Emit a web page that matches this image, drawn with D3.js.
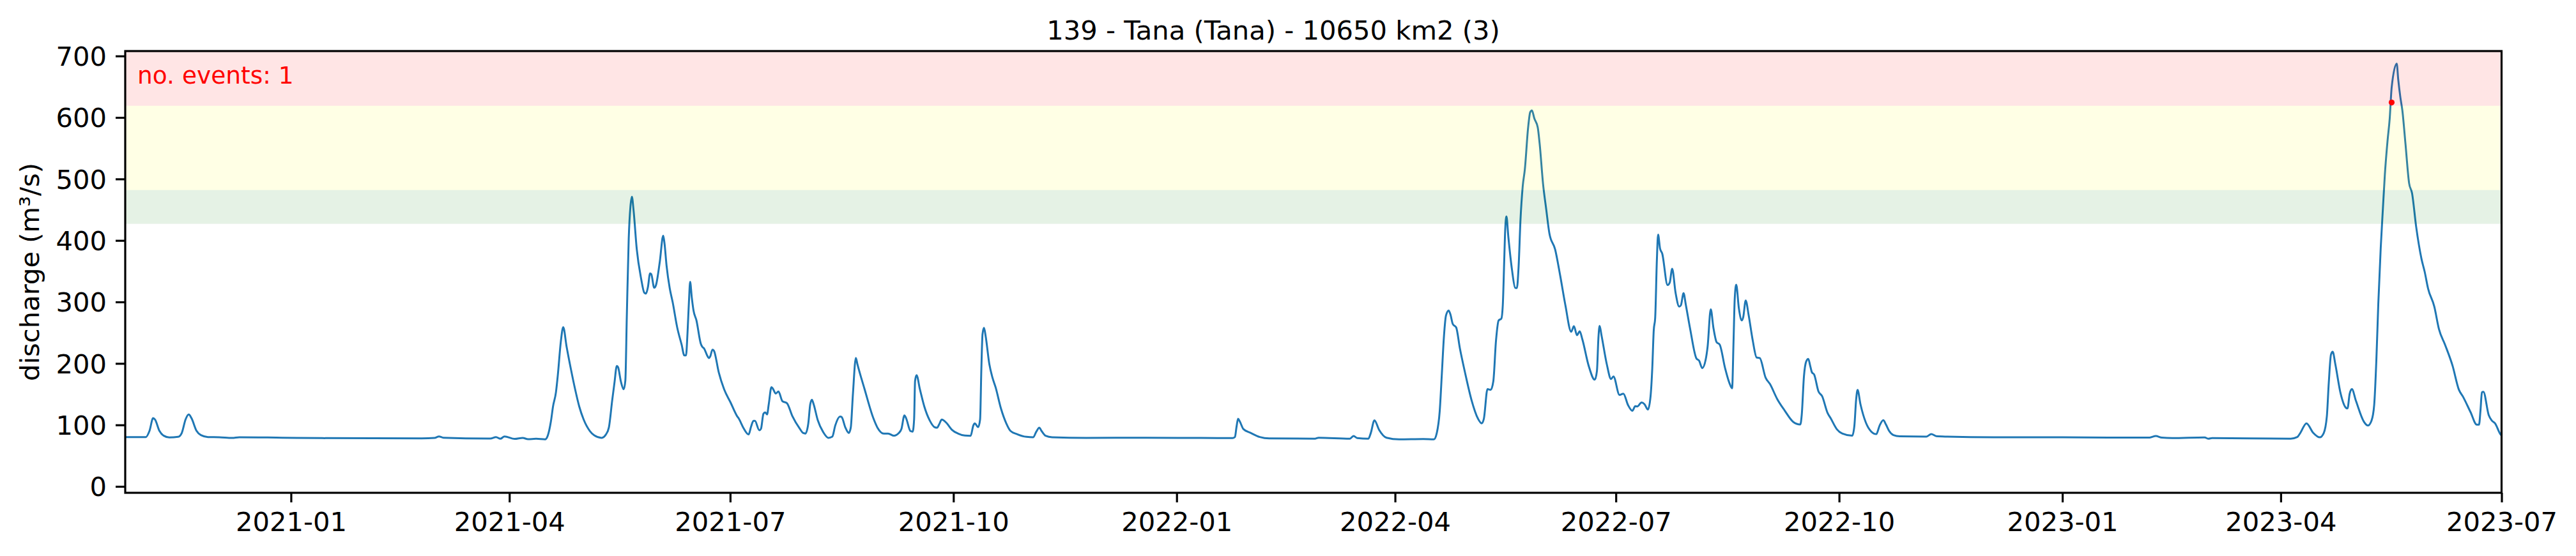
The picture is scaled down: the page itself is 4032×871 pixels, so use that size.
<!DOCTYPE html>
<html>
<head>
  <meta charset="utf-8">
  <title>139 - Tana (Tana) - 10650 km2 (3)</title>
  <script src="https://d3js.org/d3.v7.min.js"></script>
  <style>
    html, body { margin: 0; padding: 0; background: #fff; overflow: hidden; }
    svg { display: block; }
    text { font-family: "DejaVu Sans", sans-serif; }
  </style>
</head>
<body>
  <svg id="chart" width="4032" height="871"></svg>
  <script>
    // values: days counted from 2021-01-01, discharge in m3/s
    var dayOffsets = [
      -68.3, -59.8, -58.3, -56.8, -56, -54.2, -52.4, -50.1, -46.5, -45, -43.4, -42.1,
      -41, -38.9, -37.1, -34.2, -29.5, -24.2, -21.3, -3.6, 12.8, 53.9, 59.2, 61,
      62.8, 82.2, 84.5, 86.3, 88, 92.2, 95.5, 97.7, 101, 104.7, 105.9, 107.1,
      108, 109.2, 110, 111.2, 112.2, 113.6, 115.3, 117.1, 118.8, 120.6, 123.2, 125,
      128, 129.8, 131, 132.4, 133.3, 134.3, 134.8, 136, 137.1, 137.8, 138.4, 139.2,
      139.9, 140.5, 141.2, 142.5, 144.3, 145.6, 146.3, 147.1, 148, 148.5, 149.7, 150.4,
      152, 153.4, 153.9, 154.8, 156.1, 157.3, 159.2, 161, 162.1, 162.8, 163.4, 164,
      164.5, 165.2, 165.9, 167.1, 168.9, 169.5, 170.3, 171.5, 172.2, 172.8, 173.7, 174.3,
      176.3, 178.5, 181.1, 183.8, 184.6, 186.4, 188.6, 189.6, 190.6, 191.2, 193, 193.7,
      194.7, 195.4, 196.2, 196.9, 198, 198.5, 199.8, 200.9, 202.5, 204.4, 206.6, 209.7,
      211, 212, 213.2, 214, 214.7, 215.4, 217.1, 219.3, 221.5, 223.1, 224.3, 226.3,
      226.9, 228.5, 229.9, 230.7, 231.6, 232.8, 233.4, 236.4, 240, 241.7, 244.3, 246.1,
      248.5, 250.5, 251.6, 252.8, 253.5, 255.3, 256.2, 256.8, 257.2, 257.8, 259.2, 261,
      263.2, 265.4, 266.3, 267.1, 268.2, 270.2, 272.4, 275, 277.7, 280.1, 281.2, 281.8,
      283.2, 284, 284.5, 285, 285.6, 286.3, 287.8, 289.1, 290.4, 292.6, 294.8, 296.5,
      299.2, 303.1, 305.9, 307.1, 308.4, 309.3, 311, 313.7, 327.7, 352.3, 375, 388,
      389, 389.7, 390.3, 391, 392.5, 395.6, 399.3, 403.1, 422, 423.5, 436.4, 437.9,
      439.4, 444, 445, 446.5, 448.4, 451.5, 456.7, 466.6, 471, 472.2, 473.4, 474.3,
      475.1, 476, 477.1, 477.8, 478.8, 480.2, 481.7, 483.9, 486.5, 489.2, 490.7, 491.6,
      493.1, 494.4, 495.5, 496.6, 497.7, 498.8, 499.4, 500, 500.4, 500.9, 501.7, 503.2,
      504.5, 505.2, 505.9, 506.7, 507.6, 508.5, 509.8, 510.7, 511.4, 512.4, 513.8, 514.6,
      516, 517.3, 518.6, 521, 523, 525.2, 527.6, 528.7, 530, 531.1, 532.2, 534.8,
      537.3, 538.2, 538.8, 539.3, 540.1, 542.3, 544, 545, 547.5, 549.1, 551, 552.8,
      554, 554.8, 556.6, 557.8, 559.2, 560.3, 561, 561.6, 562.2, 562.9, 563.4, 564.2,
      565.1, 567.3, 568.2, 569.2, 570.6, 572.1, 572.8, 573.9, 574.8, 576.6, 579.2, 580.3,
      581.6, 583, 583.8, 585.1, 586.2, 587.5, 588.8, 591, 592.8, 593.9, 594.5, 595,
      595.6, 596.7, 597.9, 598.5, 599.5, 600.7, 602.4, 604, 605.3, 607.7, 609.5, 612.5,
      615.6, 619.1, 622, 622.6, 623.5, 624.4, 625.3, 626.1, 626.8, 627.7, 629.5, 631,
      633.2, 634.5, 637.1, 639.3, 643.4, 644.3, 645, 645.6, 646.8, 649, 651.2, 653.3,
      654.7, 656.2, 657.3, 658.6, 660.4, 663, 674, 676, 678, 682.3, 701.6, 730,
      749, 766, 768.5, 771, 775.3, 788.6, 790.2, 791.7, 824.1, 826.8, 828, 830.6,
      833.3, 836.1, 837.7, 839, 839.8, 840.7, 841.4, 842.5, 844.7, 846.9, 847.5, 848.4,
      849.3, 851, 854.3, 855.9, 857.4, 858.5, 859.4, 860.2, 861.2, 862.1, 862.9, 864,
      864.9, 865.7, 867.8, 868.4, 869.3, 870.1, 871.4, 872.9, 874.1, 875.8, 878, 879.3,
      880.7, 883.3, 885.2, 887.7, 890.8, 893.4, 895.1, 898.2, 900.8, 901.7, 902.3, 902.9,
      903.5, 905.7, 907, 908.3, 910.7, 911
    ];
    var discharge = [
      80.3, 80.3, 90.3, 111, 108.6, 90.3, 82.4, 79.6, 80.6, 86.9, 109.3, 117,
      111, 90.3, 83.4, 80.3, 80, 78.9, 80, 79.2, 78.5, 78.2, 78.9, 81.3,
      79.2, 77.8, 80.3, 77.5, 81.3, 77.2, 78.9, 76.8, 77.5, 76.5, 83.4, 105,
      130, 153, 182, 235, 259, 227, 192, 158, 130, 109, 90, 83,
      79, 84.5, 95.6, 140.5, 168, 196, 194, 170, 158, 172, 275.5, 403.5,
      455, 471, 448.5, 386, 338, 315, 313.5, 324, 346.4, 345, 323, 327,
      365.4, 407.6, 396.6, 358.5, 322, 299.7, 258, 230.5, 213, 213, 247.8, 299.7,
      332.6, 306.6, 286, 270, 232, 227, 224, 213, 208.7, 211.5, 222.5, 220.8,
      185.5, 158, 137, 114.6, 110, 95.6, 84.5, 97, 106.6, 106.6, 91.4, 93.8,
      118, 120.5, 117, 133.6, 161.3, 159.6, 151, 154.4, 138.8, 135.4, 114.6, 93.8,
      87, 86, 102.5, 133.6, 141, 133.6, 107.7, 88.6, 79, 81, 99, 113.6,
      113, 95.6, 87, 95.6, 151, 209, 199.4, 158, 111, 95.6, 86, 86,
      82.4, 86.8, 93.7, 115.6, 111, 90, 89, 109, 171.6, 181, 157.8, 130,
      107.6, 96, 95.5, 100.7, 108.6, 103, 92, 85.8, 82.7, 82.3, 99, 102.4,
      96.5, 109, 189, 247.7, 258, 244, 199, 176.8, 161, 126.6, 102.4, 90.3,
      85, 80.6, 80, 88.6, 95.5, 90.3, 82.3, 80, 79, 79.2, 78.8, 78.7,
      80.3, 97.7, 110, 105.8, 93.3, 86.8, 80.3, 78, 77.6, 79.2, 77.6, 82,
      78.7, 77.6, 86.8, 107.5, 92.2, 79.2, 76.5, 77, 76.5, 86.8, 122, 184,
      241, 278, 286, 280, 264, 258.5, 225, 184, 140.6, 110, 102.5, 110,
      158.3, 157, 171, 237, 270, 273, 294.6, 368.5, 418, 439, 405.4, 352,
      323, 322.5, 356, 434, 487.5, 516, 582, 608.6, 611.5, 598.4, 584, 557,
      491.6, 450.6, 411.6, 385, 344, 294.6, 251.5, 260.5, 246, 252.3, 239, 196,
      173.5, 187.8, 241, 261, 245.3, 198, 174.7, 178.8, 148.8, 150.9, 132.4, 123,
      130.4, 130, 136.5, 133.7, 125, 146.8, 192, 253.5, 274, 368.5, 409.5, 387,
      378.7, 327.4, 331.5, 354, 315, 292.5, 294.6, 314.3, 296, 256.4, 208, 204.5,
      192.4, 206, 227, 288, 258, 234.6, 230.5, 192.4, 168, 159.6, 237.4, 306.6,
      328, 289.3, 270, 275.5, 302.4, 279, 237.4, 209.7, 208.7, 176.9, 166.5, 142,
      123.2, 104.9, 100.7, 116.3, 178.6, 202.8, 207.3, 195.9, 185.5, 182, 154.4, 146.7,
      119.8, 111, 92.8, 85.9, 82.4, 99, 140.5, 157, 133.6, 104, 89.3, 85,
      99, 107.6, 100.7, 90.3, 83.4, 81.4, 81, 85.2, 81.7, 81, 80, 80,
      79.3, 79.5, 82, 79.3, 78.6, 79.7, 77.6, 78.6, 77.6, 80.3, 86.6, 102.6,
      87.5, 79.8, 86.6, 114, 169, 214.5, 219, 198.5, 150.6, 127.7, 126.8, 150.6,
      158.3, 139, 105, 99, 107, 132.3, 205.4, 296.8, 388, 452, 507, 561.8,
      598, 648.6, 687.4, 662.3, 632.6, 612, 557, 493, 477, 422.4, 370, 349.3,
      322, 292.2, 255.7, 230.5, 196.3, 157.4, 146, 120.9, 100.3, 100.3, 123, 153,
      154, 116, 107, 102.6, 84, 83
    ];

    var yTicks = [0, 100, 200, 300, 400, 500, 600, 700];
    var xTickLabels = ['2021-01', '2021-04', '2021-07', '2021-10', '2022-01', '2022-04',
                       '2022-07', '2022-10', '2023-01', '2023-04', '2023-07'];

    // return-period style bands, lower and upper bound (the top one runs to the frame)
    var bandLower = [427, 482, 619];
    var bandUpper = [482, 619, 708];
    var bandColors = ['green', 'yellow', 'red'];

    var eventDays = [865.7];
    var eventValues = [624.4];

    var titleText = '139 - Tana (Tana) - 10650 km2 (3)';
    var yLabelText = 'discharge (m\u00b3/s)';
    var eventsText = 'no. events: 1';

    var dayZero = Date.UTC(2021, 0, 1);
    function toDate(d) { return new Date(dayZero + d * 864e5); }

    // axes frame in page pixels (window.top is taken, hence the long names)
    var frameLeft = 196, frameRight = 3915.5, frameTop = 80, frameBottom = 772;
    var fontSize = 41.67, tickLen = 15, spineW = 3.2;

    var x = d3.scaleUtc().domain([toDate(dayOffsets[0]), toDate(911)]).range([frameLeft, frameRight]);
    var y = d3.scaleLinear().domain([-10.4, 708]).range([frameBottom, frameTop]);

    var svg = d3.select('#chart');
    svg.append('rect').attr('width', 4032).attr('height', 871).attr('fill', '#fff');

    var series = dayOffsets.map(function(d, i) { return { day: d, q: discharge[i] }; });
    var line = d3.line()
        .x(function(d) { return x(toDate(d.day)); })
        .y(function(d) { return y(d.q); })
        .curve(d3.curveMonotoneX);

    svg.append('path')
        .datum(series)
        .attr('d', line)
        .attr('fill', 'none')
        .attr('stroke', '#1f77b4')
        .attr('stroke-width', 3)
        .attr('stroke-linejoin', 'round');

    // bands sit on top of the line, that's why it looks washed out inside them
    bandColors.forEach(function(c, i) {
      svg.append('rect')
          .attr('x', frameLeft)
          .attr('width', frameRight - frameLeft)
          .attr('y', y(bandUpper[i]))
          .attr('height', y(bandLower[i]) - y(bandUpper[i]))
          .attr('fill', c)
          .attr('fill-opacity', 0.1);
    });

    svg.selectAll('.event')
        .data(eventDays)
        .enter().append('circle')
        .attr('class', 'event')
        .attr('cx', function(d) { return x(toDate(d)); })
        .attr('cy', function(d, i) { return y(eventValues[i]); })
        .attr('r', 4.6)
        .attr('fill', 'red');

    var xAxis = d3.axisBottom(x)
        .tickValues(xTickLabels.map(function(s) { return d3.utcParse('%Y-%m')(s); }))
        .tickFormat(d3.utcFormat('%Y-%m'))
        .tickSize(tickLen)
        .tickPadding(15.5);
    var yAxis = d3.axisLeft(y)
        .tickValues(yTicks)
        .tickSize(tickLen)
        .tickPadding(14);

    var xGroup = svg.append('g').attr('transform', 'translate(0,' + frameBottom + ')').call(xAxis);
    var yGroup = svg.append('g').attr('transform', 'translate(' + frameLeft + ',0)').call(yAxis);
    [xGroup, yGroup].forEach(function(g) {
      g.select('.domain').remove();
      g.selectAll('line').attr('stroke', '#000').attr('stroke-width', spineW);
      g.selectAll('text').attr('font-size', fontSize).attr('fill', '#000')
          .style('font-family', '"DejaVu Sans", sans-serif');
    });
    yGroup.selectAll('text').attr('dy', '0.355em');

    // frame
    svg.append('rect')
        .attr('x', frameLeft).attr('y', frameTop)
        .attr('width', frameRight - frameLeft).attr('height', frameBottom - frameTop)
        .attr('fill', 'none')
        .attr('stroke', '#000')
        .attr('stroke-width', spineW);

    svg.append('text')
        .attr('x', 1993).attr('y', 62)
        .attr('text-anchor', 'middle')
        .attr('font-size', fontSize)
        .text(titleText);

    svg.append('text')
        .attr('transform', 'translate(61,426) rotate(-90)')
        .attr('text-anchor', 'middle')
        .attr('font-size', fontSize)
        .text(yLabelText);

    svg.append('text')
        .attr('x', 215).attr('y', 131)
        .attr('fill', 'red')
        .attr('font-size', 37.5)
        .text(eventsText);
  </script>
</body>
</html>
